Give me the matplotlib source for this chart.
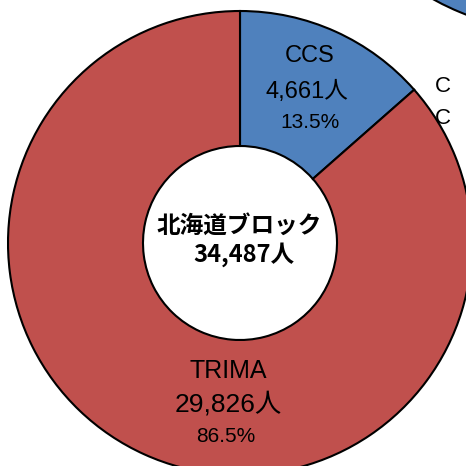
import matplotlib
matplotlib.use("Agg")
import matplotlib.pyplot as plt

# data
labels = ["CCS", "TRIMA"]
counts = [4661, 29826]
shares = ["13.5%", "86.5%"]
colors = ["#4F81BD", "#C0504D"]
block_name = "北海道ブロック"
block_total = "34,487人"

fonts = ["Liberation Sans", "Noto Sans CJK JP"]

fig = plt.figure(figsize=(4.66, 4.66), dpi=100)
ax = fig.add_axes([0, 0, 1, 1])
ax.set_xlim(0, 466)
ax.set_ylim(0, 466)
ax.set_aspect("equal")
ax.axis("off")

# neighbouring chart, only its edge shows in the corner
ax.pie([1], colors=["#4F81BD"], radius=262, center=(560, 696),
       wedgeprops=dict(edgecolor="black", linewidth=1.5))

R, r = 232, 97
cx, cy = 240, 466 - 243
ax.pie(counts, colors=colors, startangle=90, counterclock=False,
       radius=R, center=(cx, cy),
       wedgeprops=dict(width=R - r, edgecolor="black", linewidth=1.5))
ax.set_xlim(0, 466)
ax.set_ylim(0, 466)

# labels
ax.text(310, 466 - 56, labels[0], ha="center", va="center", fontsize=17, family=fonts)
ax.text(307, 466 - 92, f"{counts[0]:,}人", ha="center", va="center", fontsize=17, family=fonts)
ax.text(310, 466 - 122, shares[0], ha="center", va="center", fontsize=15, family=fonts)

ax.text(228, 466 - 371, labels[1], ha="center", va="center", fontsize=18, family=fonts)
ax.text(228, 466 - 404, f"{counts[1]:,}人", ha="center", va="center", fontsize=19, family=fonts)
ax.text(226, 466 - 437, shares[1], ha="center", va="center", fontsize=15, family=fonts)

ax.text(239, 466 - 226, block_name, ha="center", va="center", fontsize=17,
        fontweight="bold", family=["Noto Sans CJK JP"])
ax.text(244, 466 - 255, block_total, ha="center", va="center", fontsize=17,
        fontweight="bold", family=["Noto Sans CJK JP"])

# legend fragments of the next chart
ax.text(443, 466 - 87, "C", ha="center", va="center", fontsize=16, family=fonts)
ax.text(443, 466 - 118, "C", ha="center", va="center", fontsize=16, family=fonts)

fig.savefig("out.png", dpi=100)
